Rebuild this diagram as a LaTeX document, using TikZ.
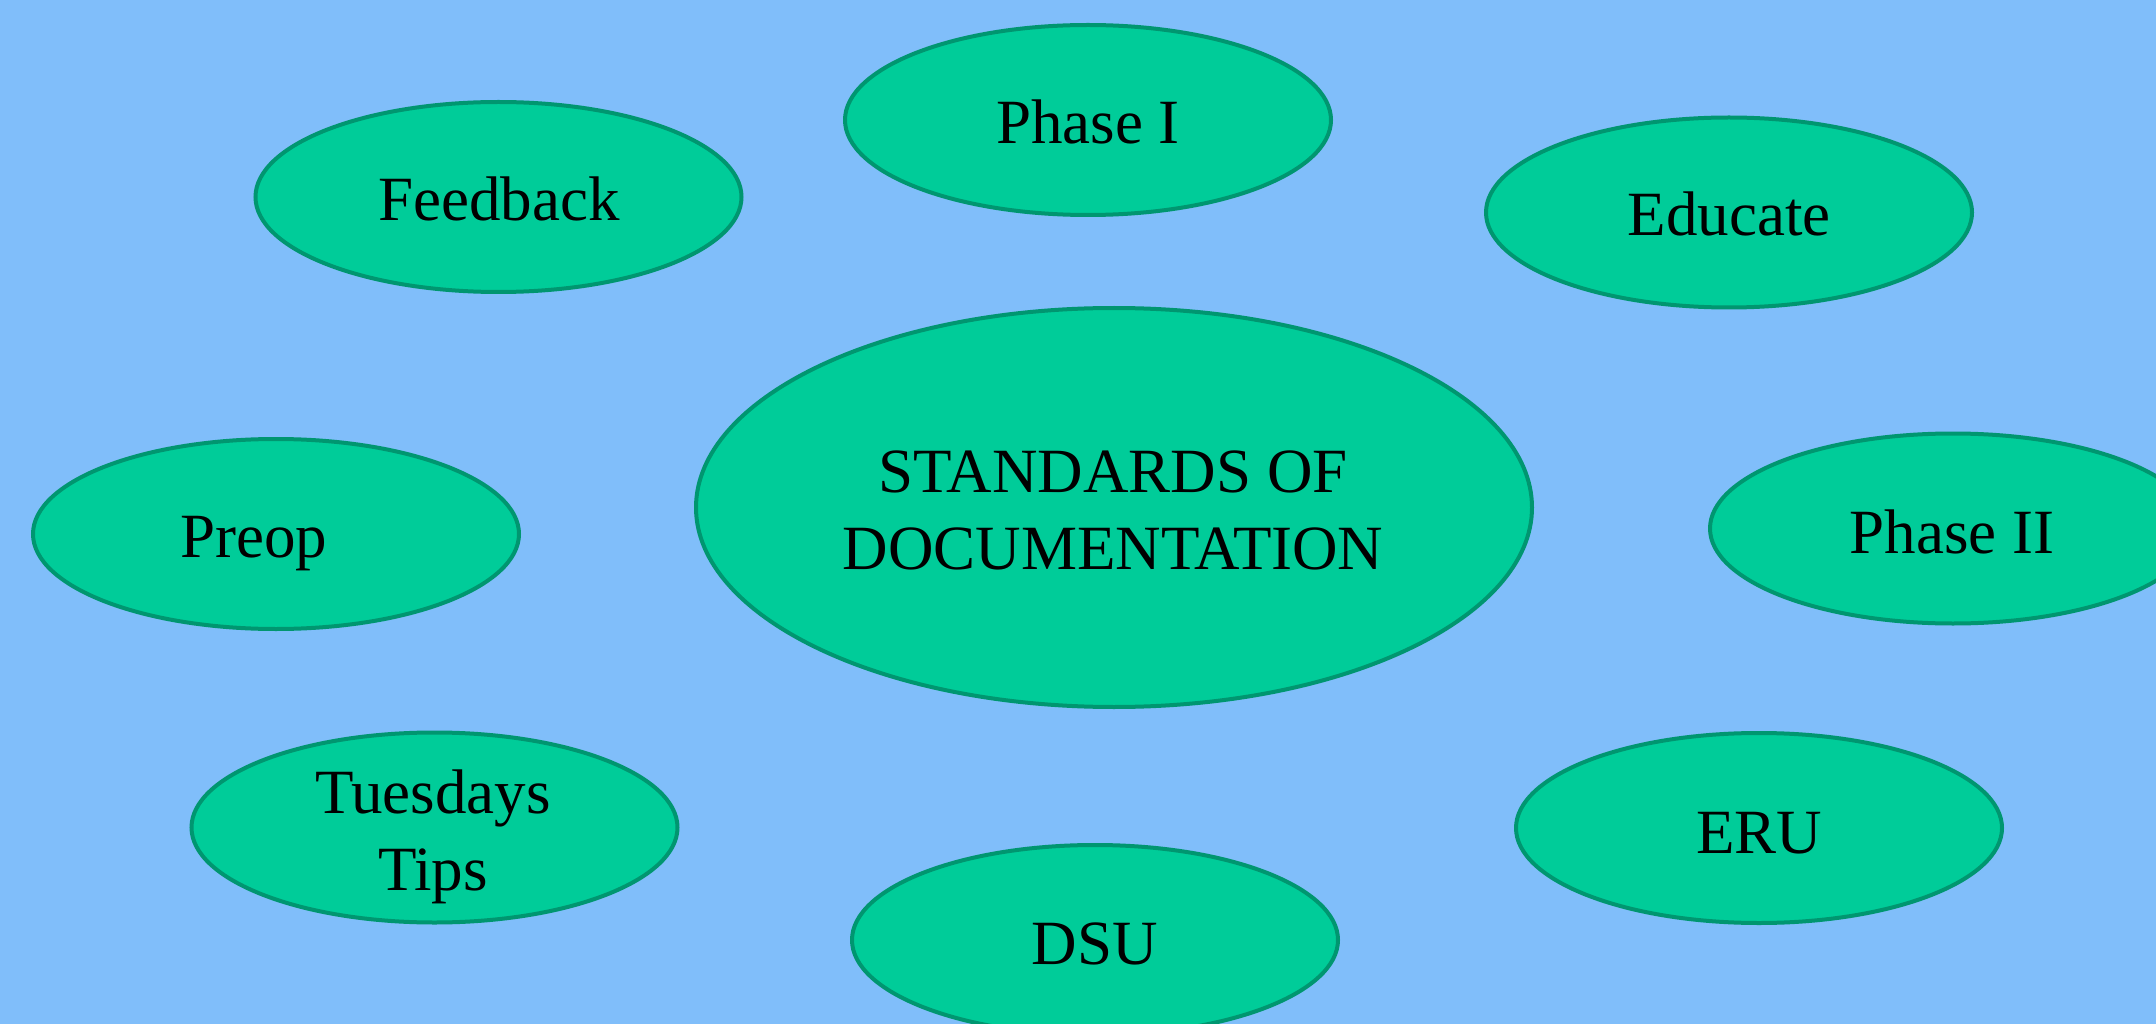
\documentclass[tikz,border=0pt]{standalone}
\usepackage{fontspec}
\setmainfont{Liberation Serif}
\usetikzlibrary{shapes.geometric}
\definecolor{sky}{RGB}{128,190,250}
\definecolor{mint}{RGB}{0,204,153}
\definecolor{mintdark}{RGB}{0,150,112}
\tikzset{
  bubble/.style={ellipse, draw=mintdark, fill=mint, line width=4pt, inner sep=0pt,
                 minimum width=486pt, minimum height=190pt},
  caption/.style={inner sep=0pt, text=black, align=center,
                  font=\fontsize{63}{77}\selectfont},
}
\begin{document}
\begin{tikzpicture}[x=1pt,y=-1pt]
  % canvas
  \path[use as bounding box, fill=sky] (0,0) rectangle (2156,1024);
  \clip (0,0) rectangle (2156,1024);

  % central topic
  \node[bubble, minimum width=836pt, minimum height=399pt] (std) at (1114,507.5) {};
  \node[caption] (stdT) at (1113,510) {STANDARDS OF\\DOCUMENTATION};

  % surrounding topics
  \node[bubble] (fb)  at (498.5,197)  {};
  \node[bubble] (p1)  at (1088,120)   {};
  \node[bubble] (ed)  at (1729,212.5) {};
  \node[bubble] (p2)  at (1953,528.5) {};
  \node[bubble] (pre) at (276,534)    {};
  \node[bubble] (tt)  at (434.5,827.5){};
  \node[bubble] (eru) at (1759,828)   {};
  \node[bubble] (dsu) at (1095,940)   {};

  % captions
  \node[caption, anchor=base] (fbT)  at (499,221)  {Feedback};
  \node[caption, anchor=base] (p1T)  at (1088,144) {Phase I};
  \node[caption, anchor=base] (edT)  at (1729,236) {Educate};
  \node[caption, anchor=base] (p2T)  at (1952,553) {Phase II};
  \node[caption, anchor=base] (preT) at (254,557)  {Preop};
  \node[caption] (ttT) at (433,837) {Tuesdays\\Tips};
  \node[caption, anchor=base] (eruT) at (1759,853) {ERU};
  \node[caption, anchor=base] (dsuT) at (1095,964) {DSU};
\end{tikzpicture}
\end{document}
